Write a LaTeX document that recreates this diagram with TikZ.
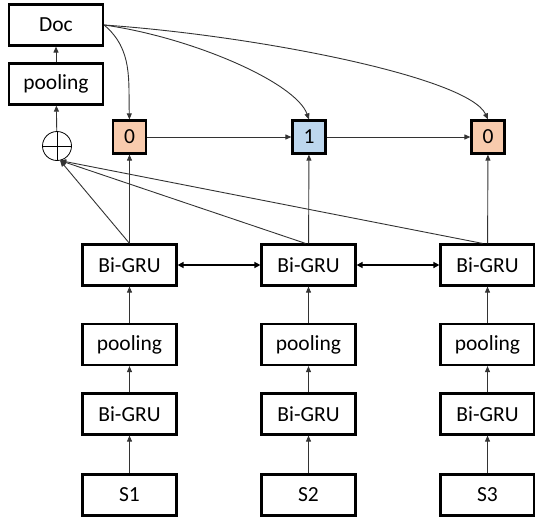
\documentclass[tikz,border=0pt]{standalone}
\usepackage{fontspec}
\setmainfont{Carlito}
\usepackage{xcolor}
\usepackage{tikz}
\usetikzlibrary{arrows.meta}

\definecolor{tagorange}{HTML}{F8CBAD}
\definecolor{tagblue}{HTML}{BDD7EE}

\tikzset{
    box/.style={draw, line width=2.2pt, minimum width=94pt, minimum height=41pt, inner sep=0pt, font=\fontsize{21.5}{26}\selectfont},
    tagbox/.style={draw, line width=2.2pt, minimum width=33pt, minimum height=33pt, inner sep=0pt, font=\fontsize{21.5}{26}\selectfont},
    arr/.style={draw=black!80, line width=0.9pt, -{Triangle[length=6pt,width=5pt]}},
    biarr/.style={line width=2pt, {Triangle[length=6pt,width=6pt]}-{Triangle[length=6pt,width=6pt]}},
}

\begin{document}
\begin{tikzpicture}[x=1pt, y=-1pt]
    \useasboundingbox (0,0) rectangle (535,522);

    % document side
    \node [box] (doc) at (56,25) {Doc};
    \node [box] (docpool) at (56,84) {pooling};
    \node [draw, circle, line width=0.8pt, minimum size=29pt, inner sep=0pt] (sum) at (57,146) {};
    \draw [line width=0.8pt] (sum.north) -- (sum.south);
    \draw [line width=0.8pt] (sum.west) -- (sum.east);

    % sentence tags
    \node [tagbox, fill=tagorange] (tag1) at (129.5,137) {0};
    \node [tagbox, fill=tagblue]   (tag2) at (309,137) {1};
    \node [tagbox, fill=tagorange] (tag3) at (488,137) {0};

    % sentence level Bi-GRU
    \node [box] (sgru1) at (129.5,265) {Bi-GRU};
    \node [box] (sgru2) at (308.5,265) {Bi-GRU};
    \node [box] (sgru3) at (487.5,265) {Bi-GRU};

    % word level
    \node [box] (pool1) at (129.5,344.5) {pooling};
    \node [box] (pool2) at (308.5,344.5) {pooling};
    \node [box] (pool3) at (487.5,344.5) {pooling};

    \node [box] (wgru1) at (129.5,414) {Bi-GRU};
    \node [box] (wgru2) at (308.5,414) {Bi-GRU};
    \node [box] (wgru3) at (487.5,414) {Bi-GRU};

    \node [box] (sent1) at (129.5,495) {S1};
    \node [box] (sent2) at (308.5,495) {S2};
    \node [box] (sent3) at (487.5,495) {S3};

    % bottom-up arrows
    \draw [arr] (sent1) -- (wgru1);
    \draw [arr] (sent2) -- (wgru2);
    \draw [arr] (sent3) -- (wgru3);
    \draw [arr] (wgru1) -- (pool1);
    \draw [arr] (wgru2) -- (pool2);
    \draw [arr] (wgru3) -- (pool3);
    \draw [arr] (pool1) -- (sgru1);
    \draw [arr] (pool2) -- (sgru2);
    \draw [arr] (pool3) -- (sgru3);
    \draw [arr] (sgru1) -- (tag1);
    \draw [arr] (sgru2) -- (tag2);
    \draw [arr] (sgru3) -- (tag3);

    \draw [biarr] (sgru1) -- (sgru2);
    \draw [biarr] (sgru2) -- (sgru3);

    \draw [arr] (tag1) -- (tag2);
    \draw [arr] (tag2) -- (tag3);

    % to the sum
    \draw [arr] (sgru1.north) -- (sum.-78);
    \draw [arr] ([xshift=-3pt]sgru2.north) -- (sum.-78);
    \draw [arr] ([xshift=-5pt]sgru3.north) -- (sum.-78);
    \draw [arr] (sum) -- (docpool);
    \draw [arr] (docpool) -- (doc);

    % doc to tags
    \draw [arr] (doc.east) to [out=-40, in=92] (tag1.north);
    \draw [arr] (doc.east) to [out=-8, in=110, in looseness=0.45] (tag2.north);
    \draw [arr] (doc.east) to [out=-4, in=115, in looseness=0.3] (tag3.north);

\end{tikzpicture}
\end{document}
